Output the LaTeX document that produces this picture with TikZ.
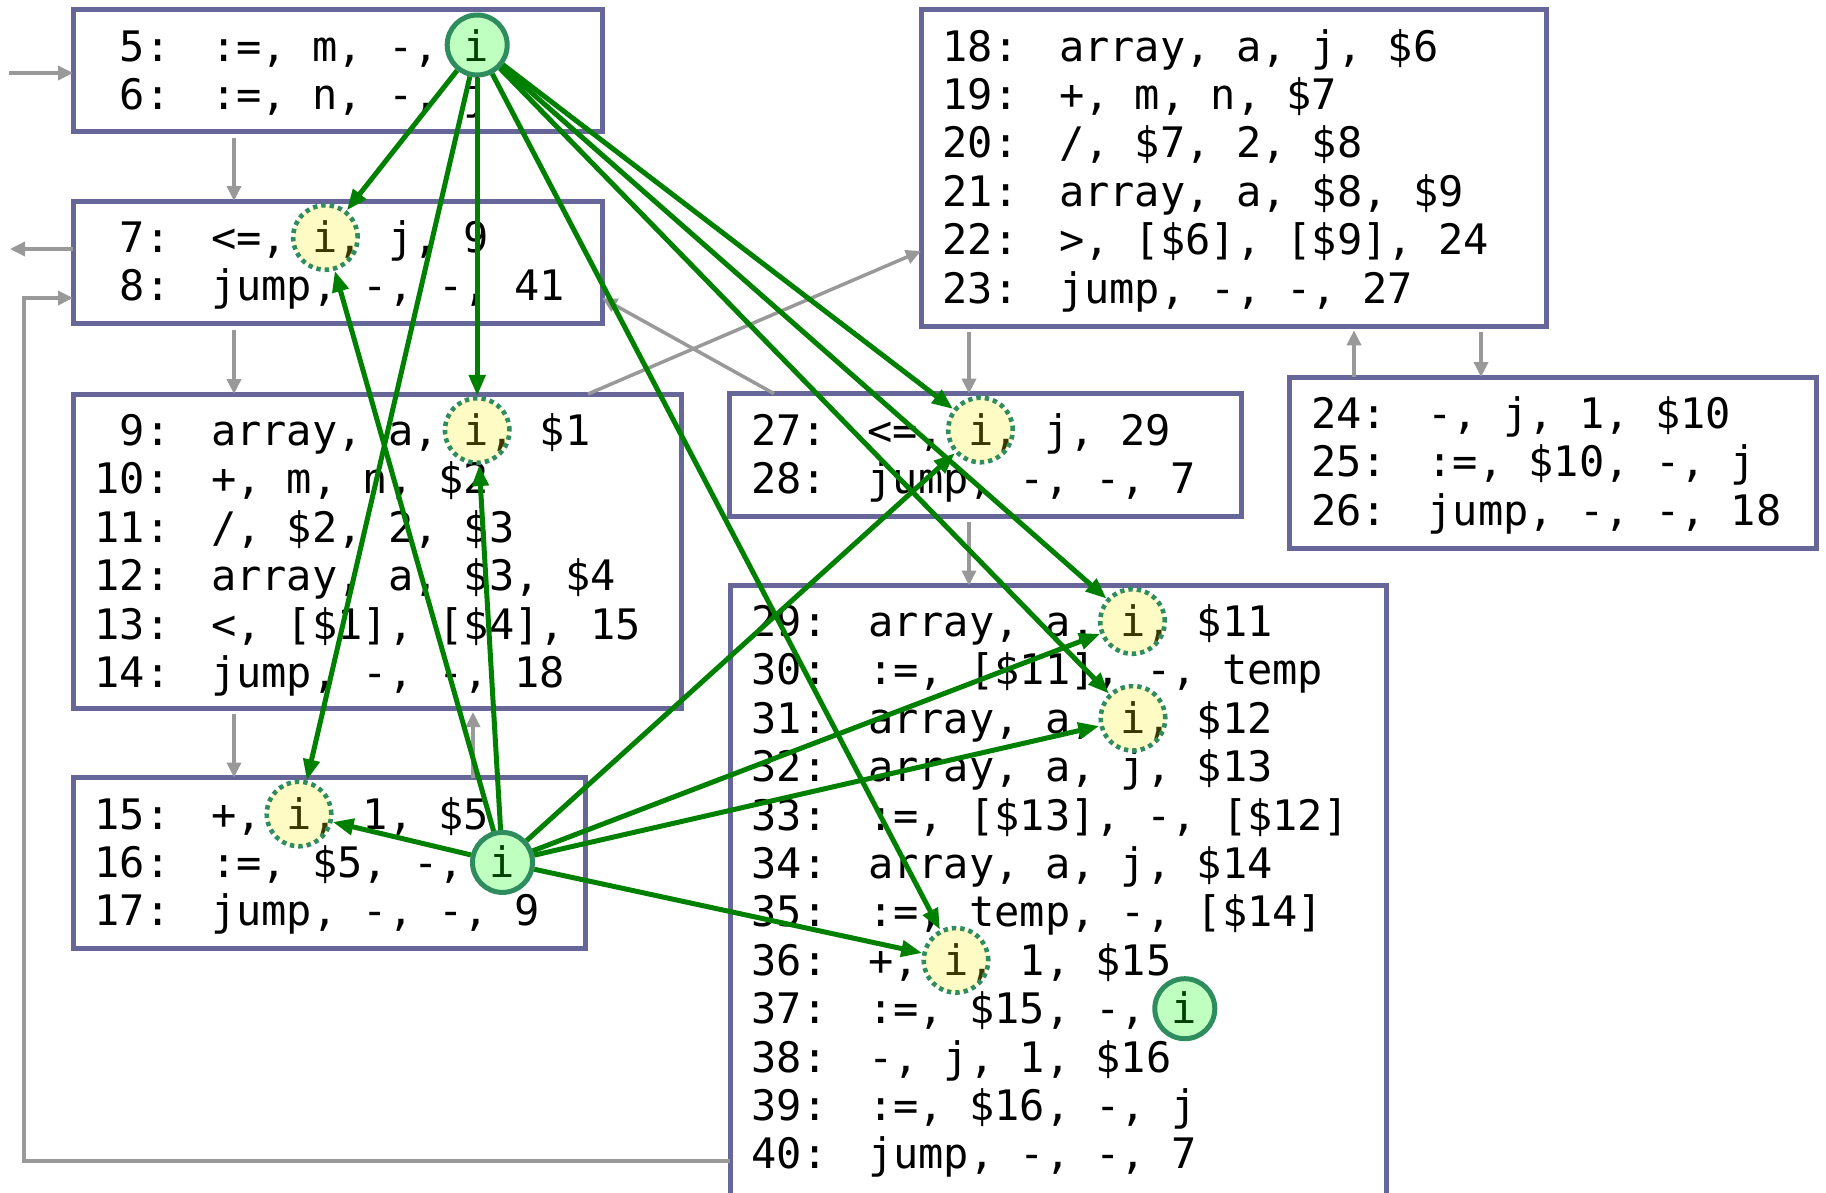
\documentclass[tikz,border=0pt]{standalone}
\usepackage{fontspec}
\newfontfamily\codefont{DejaVu Sans Mono}
\usetikzlibrary{arrows.meta,calc}
\definecolor{boxcol}{RGB}{102,102,153}
\definecolor{flowgray}{RGB}{153,153,153}
\definecolor{defgreen}{RGB}{0,128,0}
\definecolor{ringgreen}{RGB}{46,140,95}
\newcommand{\cl}[2]{#1:\kern40.5pt #2}
\begin{document}
\begin{tikzpicture}[x=1pt,y=-1pt,
  blockbox/.style={draw=boxcol, line width=5pt, fill=white, rectangle, inner sep=0pt, outer sep=0pt, anchor=north west},
  code/.style={anchor=base west, inner sep=0pt, font=\codefont\fontsize{42}{48}\selectfont\frenchspacing},
  usecirc/.style={circle, inner sep=0pt, minimum size=64.5pt, fill=yellow, fill opacity=0.23, draw=ringgreen, draw opacity=1, line width=4.6pt, dash pattern=on 4.4pt off 4pt},
  defcirc/.style={circle, inner sep=0pt, minimum size=60pt, fill=green, fill opacity=0.25, draw=ringgreen, draw opacity=1, line width=5pt},
  flow/.style={draw=flowgray, line width=3.5pt, -{Triangle[length=15pt,width=14pt]}},
  dep/.style={draw=defgreen, line width=5pt, -{Triangle[length=21pt,width=16pt]}},
]
\useasboundingbox (0,0) rectangle (1826,1192);
\fill[white] (0,0) rectangle (1826,1192);
\clip (0,0) rectangle (1826,1192);

% blocks
\node[blockbox, minimum width=529pt, minimum height=122pt] (bA) at (73,9.5) {};
\node[blockbox, minimum width=529pt, minimum height=122.5pt] (bB) at (73,201) {};
\node[blockbox, minimum width=608pt, minimum height=314pt] (bC) at (73,394) {};
\node[blockbox, minimum width=512pt, minimum height=171pt] (bD) at (73,777.5) {};
\node[blockbox, minimum width=625pt, minimum height=317pt] (bE) at (921,9.3) {};
\node[blockbox, minimum width=512pt, minimum height=122.5pt] (bF) at (729.5,393.6) {};
\node[blockbox, minimum width=527pt, minimum height=171pt] (bG) at (1289,377) {};
\node[blockbox, minimum width=656pt, minimum height=700pt] (bH) at (730,585.5) {};

% code lines
\node[code] (t5) at (94.5,61.5) {\cl{~5}{:=, m, -, i}};
\node[code] (t6) at (94.5,109.9) {\cl{~6}{:=, n, -, j}};
\node[code] (t7) at (94.5,252.5) {\cl{~7}{<=, i, j, 9}};
\node[code] (t8) at (94.5,300.9) {\cl{~8}{jump, -, -, 41}};
\node[code] (t9) at (94.5,445.5) {\cl{~9}{array, a, i, \$1}};
\node[code] (t10) at (94.5,493.9) {\cl{10}{+, m, n, \$2}};
\node[code] (t11) at (94.5,542.3) {\cl{11}{/, \$2, 2, \$3}};
\node[code] (t12) at (94.5,590.7) {\cl{12}{array, a, \$3, \$4}};
\node[code] (t13) at (94.5,639.1) {\cl{13}{<, [\$1], [\$4], 15}};
\node[code] (t14) at (94.5,687.5) {\cl{14}{jump, -, -, 18}};
\node[code] (t15) at (94.5,829) {\cl{15}{+, i, 1, \$5}};
\node[code] (t16) at (94.5,877.4) {\cl{16}{:=, \$5, -, i}};
\node[code] (t17) at (94.5,925.8) {\cl{17}{jump, -, -, 9}};
\node[code] (t18) at (942.5,61) {\cl{18}{array, a, j, \$6}};
\node[code] (t19) at (942.5,109.4) {\cl{19}{+, m, n, \$7}};
\node[code] (t20) at (942.5,157.8) {\cl{20}{/, \$7, 2, \$8}};
\node[code] (t21) at (942.5,206.2) {\cl{21}{array, a, \$8, \$9}};
\node[code] (t22) at (942.5,254.6) {\cl{22}{>, [\$6], [\$9], 24}};
\node[code] (t23) at (942.5,303) {\cl{23}{jump, -, -, 27}};
\node[code] (t24) at (1311,428.5) {\cl{24}{-, j, 1, \$10}};
\node[code] (t25) at (1311,476.9) {\cl{25}{:=, \$10, -, j}};
\node[code] (t26) at (1311,525.3) {\cl{26}{jump, -, -, 18}};
\node[code] (t27) at (751,445) {\cl{27}{<=, i, j, 29}};
\node[code] (t28) at (751,493.4) {\cl{28}{jump, -, -, 7}};
\node[code] (t29) at (751.5,636.5) {\cl{29}{array, a, i, \$11}};
\node[code] (t30) at (751.5,684.9) {\cl{30}{:=, [\$11], -, temp}};
\node[code] (t31) at (751.5,733.3) {\cl{31}{array, a, i, \$12}};
\node[code] (t32) at (751.5,781.7) {\cl{32}{array, a, j, \$13}};
\node[code] (t33) at (751.5,830.1) {\cl{33}{:=, [\$13], -, [\$12]}};
\node[code] (t34) at (751.5,878.5) {\cl{34}{array, a, j, \$14}};
\node[code] (t35) at (751.5,926.9) {\cl{35}{:=, temp, -, [\$14]}};
\node[code] (t36) at (751.5,975.3) {\cl{36}{+, i, 1, \$15}};
\node[code] (t37) at (751.5,1023.7) {\cl{37}{:=, \$15, -, i}};
\node[code] (t38) at (751.5,1072.1) {\cl{38}{-, j, 1, \$16}};
\node[code] (t39) at (751.5,1120.5) {\cl{39}{:=, \$16, -, j}};
\node[code] (t40) at (751.5,1168.9) {\cl{40}{jump, -, -, 7}};

% control-flow connectors
\coordinate (inA) at (9,73);
\coordinate (outB) at (10,249);
\coordinate (xL) at (234,0);
\coordinate (xU) at (473,0);
\coordinate (xM) at (969,0);
\coordinate (xR) at (1481,0);
\coordinate (xRu) at (1354,0);
\coordinate (cE) at (588,0);
\coordinate (yE) at (0,251);
\coordinate (fB) at (774,0);
\coordinate (yB) at (0,298);
\coordinate (backy) at (0,1161);
\coordinate (backx) at (24,0);

\draw[flow] (inA) -- (bA.west |- inA);
\draw[flow] (bB.west |- outB) -- (outB);
\draw[flow, shorten <=6pt] (bA.south -| xL) -- (bB.north -| xL);
\draw[flow, shorten <=6pt] (bB.south -| xL) -- (bC.north -| xL);
\draw[flow, shorten <=6pt] (bC.south -| xL) -- (bD.north -| xL);
\draw[flow, shorten >=4pt] (bD.north -| xU) -- (bC.south -| xU);
\draw[flow, shorten <=6pt] (bE.south -| xM) -- (bF.north -| xM);
\draw[flow, shorten <=6pt] (bF.south -| xM) -- (bH.north -| xM);
\draw[flow, shorten <=6pt] (bE.south -| xR) -- (bG.north -| xR);
\draw[flow, shorten >=4pt] (bG.north -| xRu) -- (bE.south -| xRu);
\draw[flow] (bC.north -| cE) -- (bE.west |- yE);
\draw[flow] (bF.north -| fB) -- (bB.east |- yB);
\draw[flow] (bH.west |- backy) -| (backx |- yB) -- (bB.west |- yB);

% variable occurrences
\node[defcirc] (g5) at (477.2,45) {};
\node[usecirc] (y7) at (325.4,237.5) {};
\node[usecirc] (y9) at (477.2,430.5) {};
\node[usecirc] (y15) at (299,814) {};
\node[defcirc] (g16) at (502.5,862.4) {};
\node[usecirc] (y27) at (980.5,430) {};
\node[usecirc] (y29) at (1132.5,621.5) {};
\node[usecirc] (y31) at (1133,718.3) {};
\node[usecirc] (y36) at (956,960.3) {};
\node[defcirc] (g37) at (1184.8,1008.7) {};

% def-use connectors
\foreach \t in {y7,y9,y15,y27,y29,y31,y36} \draw[dep] (g5) -- (\t);
\foreach \t in {y15,y7,y9,y27,y29,y31,y36} \draw[dep] (g16) -- (\t);
\end{tikzpicture}
\end{document}
